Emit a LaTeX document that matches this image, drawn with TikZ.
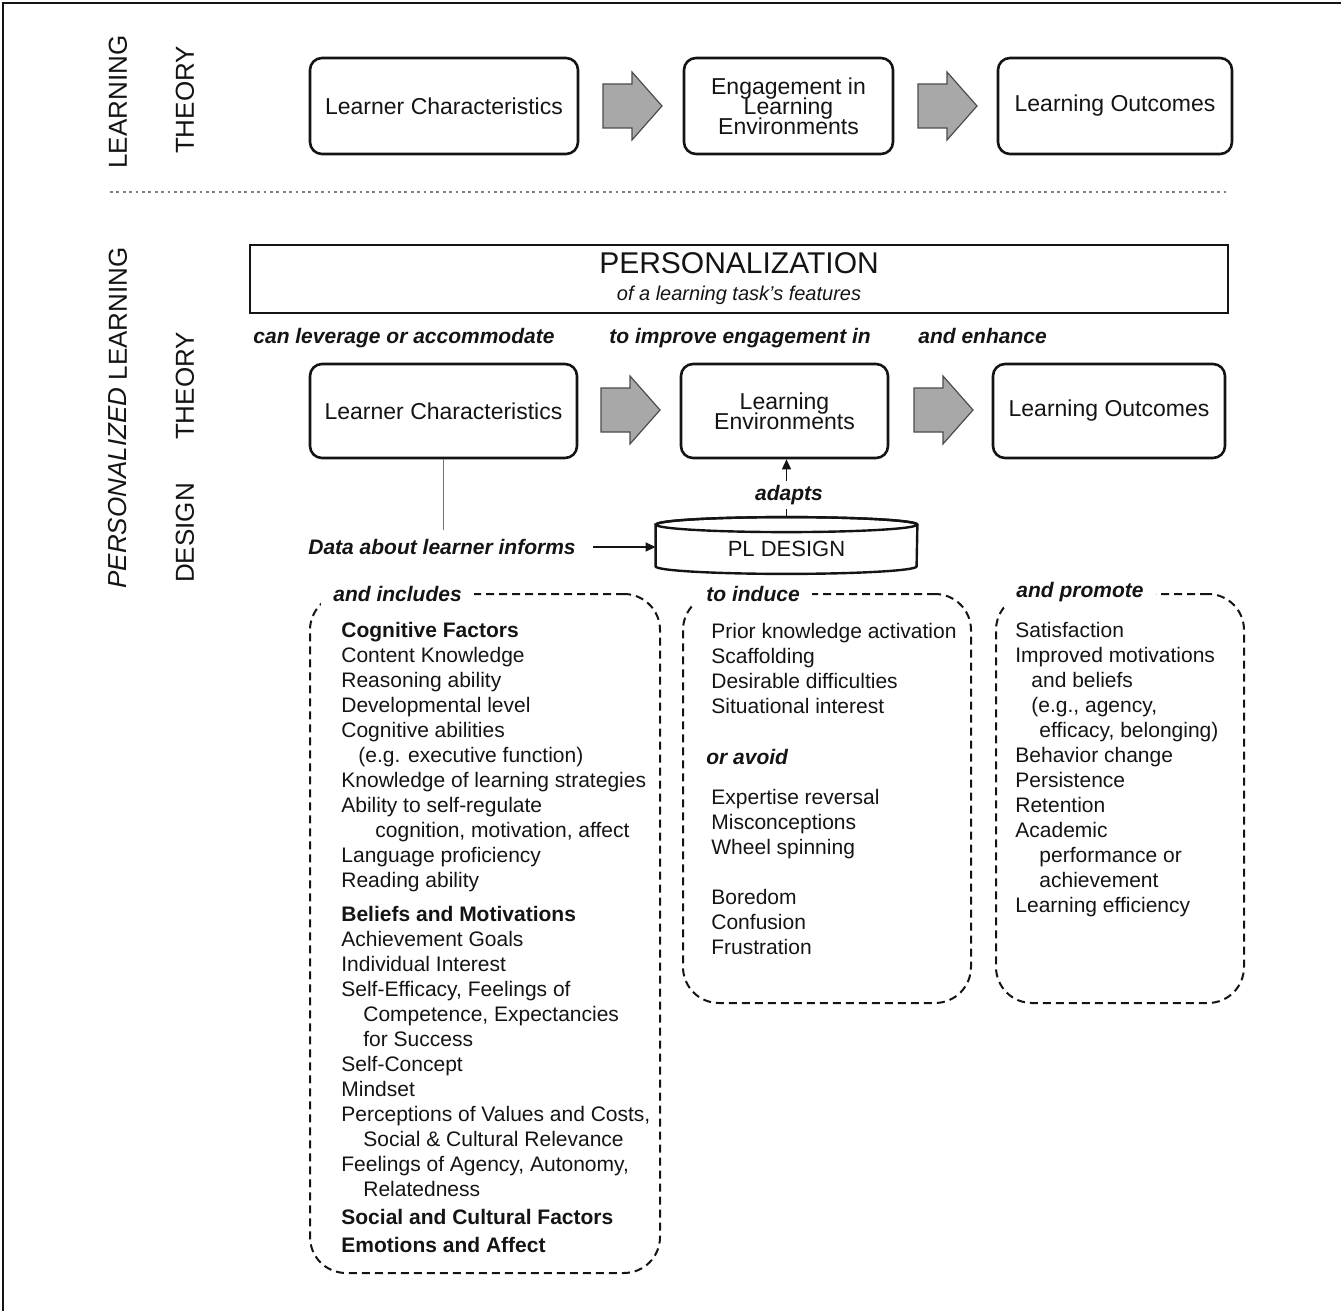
\documentclass[tikz,border=0pt]{standalone}
\usepackage{fontspec}
\setmainfont{Liberation Sans}
\usetikzlibrary{arrows.meta}
\pgfdeclarelayer{background}
\pgfsetlayers{background,main}
\definecolor{ink}{HTML}{141414}
\definecolor{arrowfill}{HTML}{A8A8A8}
\newcommand{\tightlines}{\lineskiplimit=-6pt\relax}
\tikzset{
  rbox/.style={draw=ink, line width=1.3pt, rounded corners=6pt, align=center, font=\fontsize{11.5}{10}\selectfont\tightlines, text=ink},
  blockarrow/.style={draw=black!70, fill=arrowfill, line width=0.6pt, line join=miter},
  sidelabel/.style={rotate=90, font=\fontsize{13}{15}\selectfont, text=ink},
  cue/.style={font=\bfseries\itshape\fontsize{10.5}{12}\selectfont, text=ink},
  dashbox/.style={draw=ink, line width=1pt, dash pattern=on 4pt off 2.5pt, rounded corners=18pt},
  listtext/.style={align=left, anchor=north west, inner sep=0pt, font=\fontsize{10.5}{12.5}\selectfont, text=ink},
  thinarrow/.style={draw=ink, line width=0.7pt, -{Triangle[length=5pt,width=4.5pt]}},
}
\newcommand{\blockarr}[2]{%
  \draw[blockarrow] (#1,#2) ++(0,-22) -- ++(29,0) -- ++(0,-12) -- ++(30,34) -- ++(-30,34) -- ++(0,-12) -- ++(-29,0) -- cycle;}
\begin{document}
\begin{tikzpicture}[x=0.5pt,y=-0.5pt]
\useasboundingbox (0,0) rectangle (1341,1311);
% frame
\draw[ink, line width=1.2pt] (3,1311) -- (3,3) -- (1341,3);
% side labels
\node[sidelabel] (sl1) at (118,102) {LEARNING};
\node[sidelabel] (sl2) at (185,100) {THEORY};
\node[sidelabel] (sl3) at (118,418) {\textit{PERSONALIZED} LEARNING};
\node[sidelabel] (sl4) at (185,386) {THEORY};
\node[sidelabel] (sl5) at (185,533) {DESIGN};
% separator
\draw[black!50, line width=1pt, dash pattern=on 1.4pt off 1.8pt] (110,192) -- (1228,192);
% row 1
\node[rbox, minimum width=134pt, minimum height=48pt] (lc1) at (444,106) {Learner Characteristics};
\node[rbox, minimum width=104.5pt, minimum height=48pt] (eng) at (788.5,106) {Engagement in\\Learning\\Environments};
\node[rbox, minimum width=117pt, minimum height=48pt] (lo1) at (1115,106) {Learning Outcomes};
\blockarr{603}{106}
\blockarr{918}{106}
% personalization
\node[draw=ink, line width=1.3pt, minimum width=489pt, minimum height=34pt, align=center, text=ink] (pers) at (739,279)
  {{\fontsize{15}{15}\selectfont PERSONALIZATION}\\[1.5pt]{\itshape\fontsize{10}{13}\selectfont of a learning task's features}};
\node[cue, anchor=west, inner sep=0pt] (c1) at (253,338) {can leverage or accommodate};
\node[cue, anchor=west, inner sep=0pt] (c2) at (609,338) {to improve engagement in};
\node[cue, anchor=west, inner sep=0pt] (c3) at (918,336) {and enhance};
% row 2
\node[rbox, minimum width=133.5pt, minimum height=47pt] (lc2) at (443.5,411) {Learner Characteristics};
\node[rbox, minimum width=103.5pt, minimum height=47pt] (le2) at (784.5,411) {Learning\\Environments};
\node[rbox, minimum width=116pt, minimum height=47pt] (lo2) at (1109,411) {Learning Outcomes};
\blockarr{601}{410}
\blockarr{914}{410}
% design
\node[cue, anchor=west, inner sep=0pt] (data) at (308,547) {Data about learner informs};
\node[minimum width=130.5pt, minimum height=20.5pt, inner sep=0pt, font=\fontsize{11}{13}\selectfont, text=ink] (pld) at (786.5,545.5) {\raisebox{-1.75pt}[\height][\depth]{PL DESIGN}};
\begin{pgfonlayer}{background}
\filldraw[fill=white, draw=ink, line width=1.2pt] (pld.north west) -- (pld.south west)
  arc[start angle=180, end angle=360, x radius=65.25pt, y radius=3.75pt] -- (pld.north east)
  arc[start angle=0, end angle=180, x radius=65.25pt, y radius=3.75pt] -- cycle;
\draw[ink, line width=1.2pt] (pld.north) ellipse [x radius=65.25pt, y radius=3.75pt];
\end{pgfonlayer}
\coordinate (pldtop) at ([yshift=3.75pt]pld.north);
\node[cue, inner sep=2pt] (ad) at (789,495) {adapts};
\draw[black!55, line width=0.8pt, shorten >=4.5pt] (lc2.south) -- (lc2.south |- data.north);
\draw[thinarrow, shorten <=8.5pt] (data.east) -- (pld.west |- data.east);
\draw[ink, line width=0.7pt] (pldtop) -- (pldtop |- ad.south);
\draw[thinarrow] (pldtop |- ad.north) -- (pldtop |- le2.south);
% dashed boxes
\node[dashbox, minimum width=175pt, minimum height=339.5pt] (bxA) at (485,933.5) {};
\node[dashbox, minimum width=144pt, minimum height=204.5pt] (bxB) at (827,798.5) {};
\node[dashbox, minimum width=124pt, minimum height=204.5pt] (bxC) at (1120,798.5) {};
\node[cue, fill=white, anchor=west, inner xsep=6pt, inner ysep=3pt] (lA) at (321,594) {and includes};
\node[cue, fill=white, anchor=west, inner xsep=6pt, inner ysep=3pt] (lB) at (694,594) {to induce};
\node[cue, fill=white, anchor=west, inner xsep=6pt, inner ysep=3pt] (lC) at (1004,592) {and promote};
\node[listtext] (tA) at (341,622) {\textbf{Cognitive Factors}\\
Content Knowledge\\
Reasoning ability\\
Developmental level\\
Cognitive abilities\\
\hspace*{8.5pt}(e.g. executive function)\\
Knowledge of learning strategies\\
Ability to self-regulate\\
\hspace*{17pt}cognition, motivation, affect\\
Language proficiency\\
Reading ability\\[4.5pt]
\textbf{Beliefs and Motivations}\\
Achievement Goals\\
Individual Interest\\
Self-Efficacy, Feelings of\\
\hspace*{11pt}Competence, Expectancies\\
\hspace*{11pt}for Success\\
Self-Concept\\
Mindset\\
Perceptions of Values and Costs,\\
\hspace*{11pt}Social \& Cultural Relevance\\
Feelings of Agency, Autonomy,\\
\hspace*{11pt}Relatedness\\[1.5pt]
\textbf{Social and Cultural Factors}\\[1.5pt]
\textbf{Emotions and Affect}};
\node[listtext] (tB) at (711,623) {Prior knowledge activation\\
Scaffolding\\
Desirable difficulties\\
Situational interest\\[13pt]
\hspace*{-2.5pt}\textbf{\textit{or avoid}}\\[7.5pt]
Expertise reversal\\
Misconceptions\\
Wheel spinning\\[12.5pt]
Boredom\\
Confusion\\
Frustration};
\node[listtext] (tC) at (1015,622) {Satisfaction\\
Improved motivations\\
\hspace*{8pt}and beliefs\\
\hspace*{8pt}(e.g., agency,\\
\hspace*{12pt}efficacy, belonging)\\
Behavior change\\
Persistence\\
Retention\\
Academic\\
\hspace*{12pt}performance or\\
\hspace*{12pt}achievement\\
Learning efficiency};
\end{tikzpicture}
\end{document}
